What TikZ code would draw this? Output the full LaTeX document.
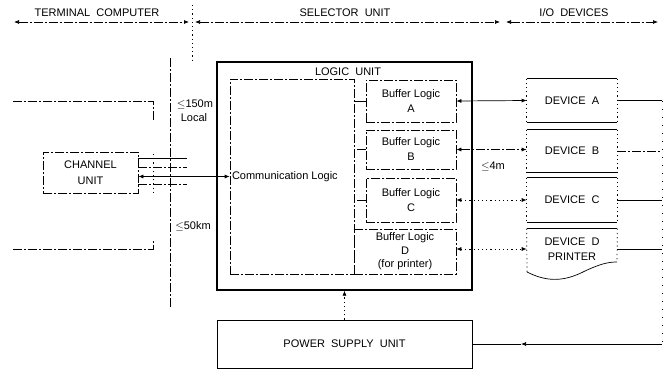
\documentclass[tikz,border=0pt]{standalone}
\usepackage{fontspec}
\setmainfont{Liberation Sans}
\usetikzlibrary{arrows.meta}
\begin{document}
\begin{tikzpicture}[x=1pt,y=-1pt,line width=0.7pt,
  lbl/.style={font=\fontsize{11}{13}\selectfont, inner sep=0pt, align=center},
  faded/.style={dash pattern=on 9pt off 2pt on 2pt off 2pt},
  dots/.style={dash pattern=on 1.2pt off 3pt},
  sparse/.style={dash pattern=on 1pt off 7pt},
  tip/.style={-{Latex[length=5pt,width=4pt]}},
  both/.style={{Latex[length=5pt,width=4pt]}-{Latex[length=5pt,width=4pt]}},
  bufbox/.style={lbl, draw, faded, minimum width=90pt},
  devbox/.style={lbl, minimum width=90pt}]
\useasboundingbox (0,0) rectangle (668,369);

% header
\node[lbl] (tc) at (97,13) {TERMINAL\ \ COMPUTER};
\node[lbl] (su) at (345,13) {SELECTOR\ \ UNIT};
\node[lbl] (io) at (574,13) {I/O\ \ DEVICES};
\coordinate (h0) at (14,22);  \coordinate (h1) at (189,22);
\coordinate (h2) at (195,22); \coordinate (h3) at (500,22);
\coordinate (h4) at (506,22); \coordinate (h5) at (658,22);
\draw[both,faded] (h0) -- (h1);
\draw[both,faded] (h2) -- (h3);
\draw[both,faded] (h4) -- (h5);
\coordinate (dv1) at (192,5); \coordinate (dv2) at (192,60);
\draw[dots] (dv1) -- (dv2);

% local / remote boundary
\coordinate (vb1) at (170,58); \coordinate (vb2) at (170,308);
\draw[faded] (vb1) -- (vb2);
\node[lbl] (l150) at (195,104) {$\leq$150m};
\node[lbl] (loc) at (194,118) {Local};
\node[lbl] (l50) at (193,226) {$\leq$50km};

% other lines on the left
\coordinate (la) at (13,101); \coordinate (lb) at (153,101); \coordinate (lc) at (153,121);
\draw[faded] (la) -- (lb) -- (lc);
\coordinate (ld) at (13,249); \coordinate (le) at (153,249); \coordinate (lf) at (153,241);
\draw[faded] (ld) -- (le) -- (lf);

% channel unit
\node[lbl, draw, faded, minimum width=95pt, minimum height=41pt] (cu) at (90.5,172.5) {CHANNEL\\[3pt]UNIT};

% logic unit
\node[draw, line width=1.3pt, minimum width=255pt, minimum height=228pt, inner sep=0pt] (lu) at (344.5,176) {};
\node[lbl] (lut) at (348,72) {LOGIC\ \ UNIT};
\node[draw, faded, minimum width=124pt, minimum height=195pt, inner sep=0pt] (cl) at (292,176.5) {};
\node[lbl, anchor=west] (clt) at ([xshift=2pt]cl.west) {Communication Logic};

\node[bufbox, minimum height=42pt] (bA) at (411,101) {Buffer Logic\\[2pt]A};
\node[bufbox, minimum height=39pt] (bB) at (411,149.5) {Buffer Logic\\[2pt]B};
\node[bufbox, minimum height=44pt] (bC) at (411,200) {Buffer Logic\\[2pt]C};
\node[bufbox, minimum width=102pt, minimum height=45pt] (bD) at (405,251.5) {Buffer Logic\\[1pt]D\\[0pt](for printer)};

% channel unit lines
\coordinate (e1) at (187,158); \coordinate (e2) at (187,167); \coordinate (e4) at (187,184);
\draw (cu.east |- e1) -- (e1);
\draw[faded] (cu.east |- e2) -- (e2);
\draw[faded] (cu.east |- e4) -- (e4);
\draw[both] (cu.east |- cl.west) -- (cl.west);
\coordinate (t1) at (153,154); \coordinate (t2) at (153,195);
\draw[dots] (t1) -- (t2);

% communication logic to buffers
\draw (bA.west) -- (bA.west -| cl.east);
\draw[faded] (bB.west) -- (bB.west -| cl.east);
\draw[faded] (bC.west) -- (bC.west -| cl.east);

% devices
\node[devbox, minimum height=43pt] (dA) at (572,100.5) {DEVICE\ \ A};
\node[devbox, minimum height=42pt] (dB) at (572,151) {DEVICE\ \ B};
\node[devbox, minimum height=44pt] (dC) at (572,200) {DEVICE\ \ C};
\foreach \n in {dA,dB,dC}{
  \draw (\n.north west) -- (\n.north east);
  \draw (\n.south west) -- (\n.south east);
  \draw[dots] (\n.north west) -- (\n.south west);
  \draw[dots] (\n.north east) -- (\n.south east);
}
\node[devbox, minimum height=40pt] (dD) at (572,249) {DEVICE\ \ D\\[2pt]PRINTER};
\coordinate (w0) at (527,272); \coordinate (w1) at (617,262);
\draw (dD.north west) -- (dD.north east);
\draw[dots] (dD.north west) -- (w0);
\draw[dots] (dD.north east) -- (w1);
\draw (w0) .. controls (545,281) and (562,283) .. (585,271) .. controls (600,264) and (608,262) .. (w1);
\node[lbl] (l4) at (493,166) {$\leq$4m};

% buffers to devices
\draw[both] (bA.east) -- (dA.west);
\draw[both,faded] (bB.east) -- (bB.east -| dB.west);
\draw[both,dots] (bC.east) -- (dC.west);
\draw[both,dots] (bD.east |- dD.west) -- (dD.west);

% power supply
\node[lbl, draw, minimum width=255pt, minimum height=48pt] (psu) at (344.5,344) {POWER\ \ SUPPLY\ \ UNIT};
\draw[tip,dots] (psu.north) -- (lu.south);

% device power bus
\coordinate (rtop) at (662,101); \coordinate (rbot) at (662,344);
\coordinate (pm) at (521,344);
\draw (dA.east) -- (dA.east -| rtop);
\draw[faded] (dB.east) -- (dB.east -| rtop);
\draw (dC.east) -- (dC.east -| rtop);
\draw (dD.east) -- (dD.east -| rtop);
\draw[sparse] (rtop) -- (rbot);
\draw[tip] (rbot) -- (pm);
\draw (pm) -- (psu.east);
\end{tikzpicture}
\end{document}
